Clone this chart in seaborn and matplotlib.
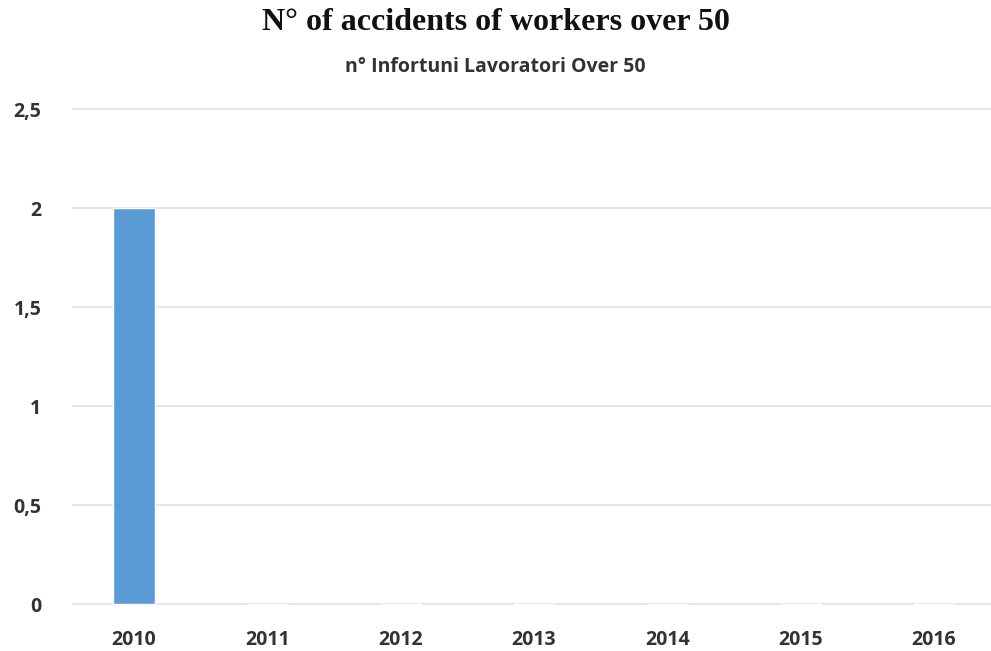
import matplotlib
matplotlib.use("Agg")
import matplotlib.pyplot as plt
import seaborn as sns
import pandas as pd

years = ["2010", "2011", "2012", "2013", "2014", "2015", "2016"]
accidents = [2, 0, 0, 0, 0, 0, 0]
y_ticks = [0, 0.5, 1, 1.5, 2, 2.5]
y_tick_labels = ["0", "0,5", "1", "1,5", "2", "2,5"]
title = "N° of accidents of workers over 50"
subtitle = "n° Infortuni Lavoratori Over 50"

sns.set_theme(style="white")
plt.rcParams["font.family"] = ["Open Sans", "DejaVu Sans"]

df = pd.DataFrame({"year": years, "n": accidents})

W, H = 991, 651
fig = plt.figure(figsize=(W / 100, H / 100), dpi=100)
left_px, right_px = 72, 991
y0_px, y25_px = 604, 109
pad = 0.02
top_px = y25_px - pad * (y0_px - y25_px) / 2.5
bot_px = y0_px + pad * (y0_px - y25_px) / 2.5
ax = fig.add_axes([left_px / W, (H - bot_px) / H, (right_px - left_px) / W, (bot_px - top_px) / H])

sns.barplot(data=df, x="year", y="n", color="#5B9BD5", width=0.31, ax=ax, saturation=1)

a, b = 134, 133.33
ax.set_xlim((left_px - a) / b, (right_px - a) / b)
ax.set_ylim(-pad, 2.5 + pad)
ax.set_yticks(y_ticks)
ax.set_yticklabels(y_tick_labels)
ax.yaxis.grid(True, color="#e3e3e3", linewidth=1.3)
ax.set_axisbelow(True)
for s in ax.spines.values():
    s.set_visible(False)
ax.set_xlabel("")
ax.set_ylabel("")
ax.tick_params(axis="y", length=0, pad=22, labelsize=14, labelcolor="#333333")
ax.tick_params(axis="x", length=0, pad=16, labelsize=14, labelcolor="#333333")
for lab in ax.get_yticklabels() + ax.get_xticklabels():
    lab.set_fontweight("bold")

fig.text(0.5, 1 - 23 / H, title, ha="center", va="center",
         fontsize=23, fontweight="bold", family=["Liberation Serif", "DejaVu Serif"], color="#111111")
fig.text(0.5, 1 - 67 / H, subtitle, ha="center", va="center",
         fontsize=14, fontweight="bold", color="#333333")

fig.savefig("out.png", dpi=100)
